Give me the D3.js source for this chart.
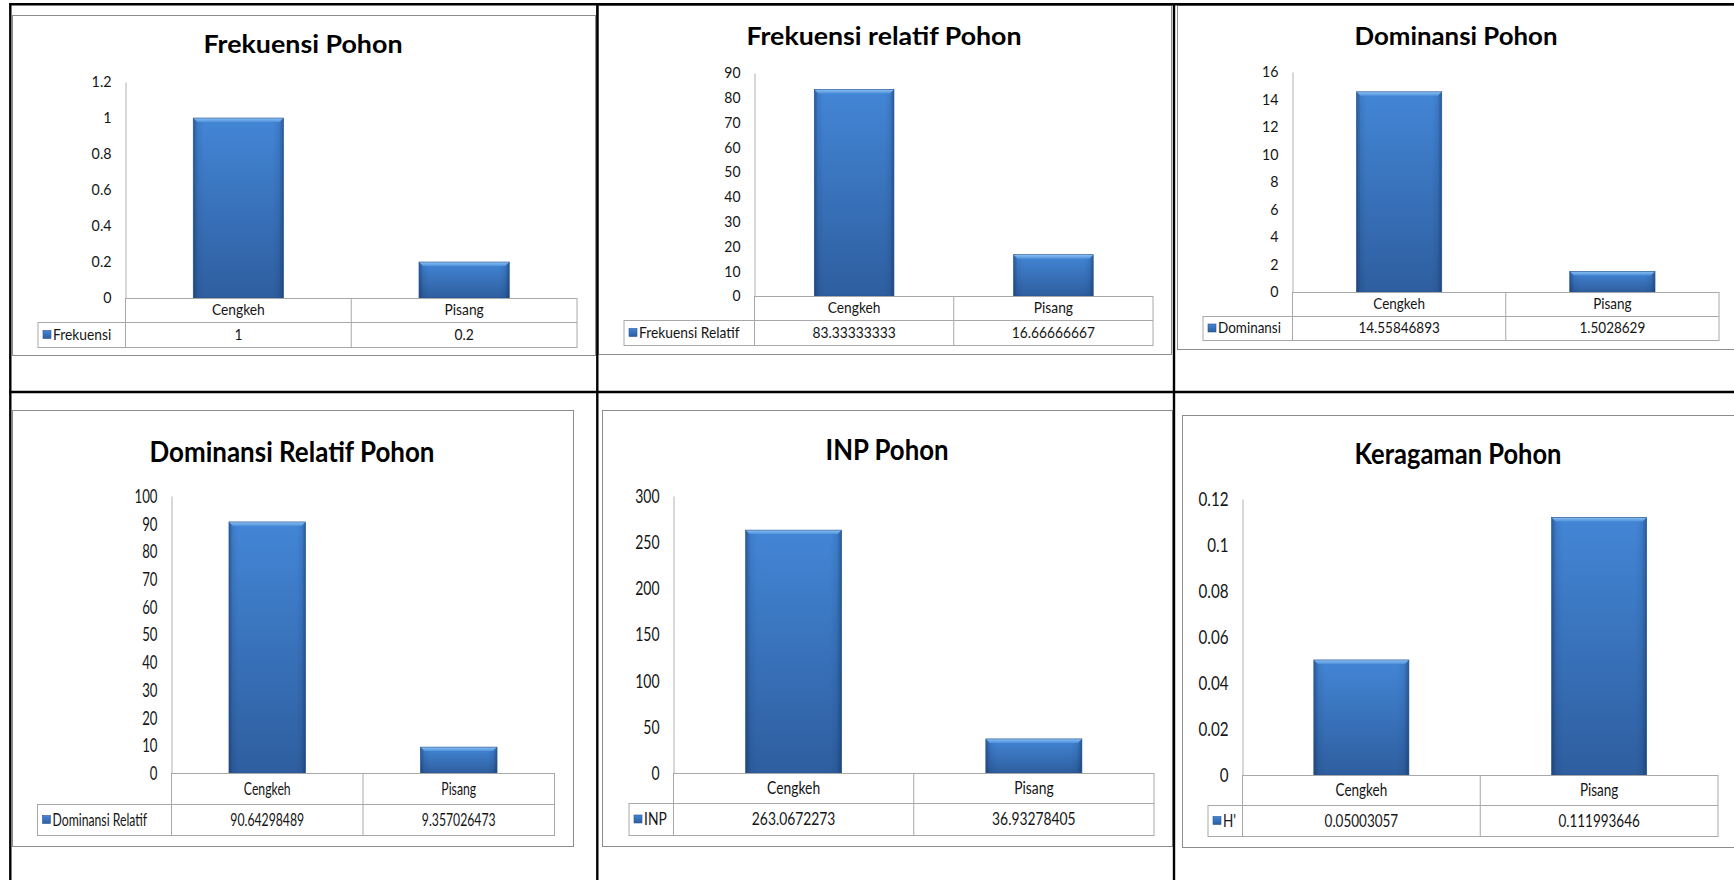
<!DOCTYPE html>
<html>
<head>
<meta charset="utf-8">
<script src="https://cdn.jsdelivr.net/npm/d3@7"></script>
<style>
  body { margin: 0; background: #fff; }
  svg { display: block; font-family: Lato, "Open Sans", sans-serif; }
</style>
</head>
<body>
<div id="chart"></div>
<script>
// kategori pohon
const categories = ["Cengkeh", "Pisang"];

// nilai tiap grafik
const frekuensi = [1, 0.2];
const frekuensiRelatif = [83.33333333, 16.66666667];
const dominansi = [14.55846893, 1.5028629];
const dominansiRelatif = [90.64298489, 9.357026473];
const inp = [263.0672273, 36.93278405];
const keragaman = [0.05003057, 0.111993646];

// angka di tabel data (ditulis seperti di Excel)
const frekuensiText = ["1", "0.2"];
const frekuensiRelatifText = ["83.33333333", "16.66666667"];
const dominansiText = ["14.55846893", "1.5028629"];
const dominansiRelatifText = ["90.64298489", "9.357026473"];
const inpText = ["263.0672273", "36.93278405"];
const keragamanText = ["0.05003057", "0.111993646"];

// tick sumbu y
const ticksFrekuensi = [0, 0.2, 0.4, 0.6, 0.8, 1, 1.2];
const ticksFrekuensiRelatif = [0, 10, 20, 30, 40, 50, 60, 70, 80, 90];
const ticksDominansi = [0, 2, 4, 6, 8, 10, 12, 14, 16];
const ticksDominansiRelatif = [0, 10, 20, 30, 40, 50, 60, 70, 80, 90, 100];
const ticksInp = [0, 50, 100, 150, 200, 250, 300];
const ticksKeragaman = [0, 0.02, 0.04, 0.06, 0.08, 0.1, 0.12];

const titles = ["Frekuensi Pohon", "Frekuensi relatif Pohon", "Dominansi Pohon",
                "Dominansi Relatif Pohon", "INP Pohon", "Keragaman Pohon"];
const seriesNames = ["Frekuensi", "Frekuensi Relatif", "Dominansi",
                     "Dominansi Relatif", "INP", "H'"];

// posisi tiap grafik di halaman (hasil ukur dari gambar)
const charts = [
  { values: frekuensi, labels: frekuensiText, ticks: ticksFrekuensi,
    frame: [12, 15, 595, 355], axisX: 125.5, top: 82, zero: 298, right: 577,
    legendLeft: 38, catBottom: 322, legBottom: 347,
    titleX: 303, titleY: 53, titleW: 199, titleSize: 25,
    tickFont: 15, tableFont: 15, sqTick: 0.95, sqTable: 0.92 },
  { values: frekuensiRelatif, labels: frekuensiRelatifText, ticks: ticksFrekuensiRelatif,
    frame: [598, 5, 1171, 354], axisX: 754.5, top: 73, zero: 296, right: 1153,
    legendLeft: 624, catBottom: 320, legBottom: 345,
    titleX: 884, titleY: 45, titleW: 275, titleSize: 25,
    tickFont: 15, tableFont: 15, sqTick: 0.93, sqTable: 0.92 },
  { values: dominansi, labels: dominansiText, ticks: ticksDominansi,
    frame: [1177, 5, 1745, 349], axisX: 1292.5, top: 72, zero: 292, right: 1719,
    legendLeft: 1203, catBottom: 316, legBottom: 340,
    titleX: 1456, titleY: 45, titleW: 203, titleSize: 25,
    tickFont: 15, tableFont: 15, sqTick: 0.95, sqTable: 0.9 },
  { values: dominansiRelatif, labels: dominansiRelatifText, ticks: ticksDominansiRelatif,
    frame: [12, 410, 573, 846], axisX: 171.5, top: 496, zero: 773, right: 554.5,
    legendLeft: 37.5, catBottom: 804, legBottom: 835,
    titleX: 292, titleY: 462, titleW: 285, titleSize: 29,
    tickFont: 20, tableFont: 18, sqTick: 0.66, sqTable: 0.68 },
  { values: inp, labels: inpText, ticks: ticksInp,
    frame: [602, 410, 1172, 846], axisX: 673.5, top: 496, zero: 773, right: 1154,
    legendLeft: 629, catBottom: 803, legBottom: 835,
    titleX: 887, titleY: 460, titleW: 123, titleSize: 29,
    tickFont: 20, tableFont: 18, sqTick: 0.7, sqTable: 0.77 },
  { values: keragaman, labels: keragamanText, ticks: ticksKeragaman,
    frame: [1182, 415, 1745, 847], axisX: 1242.5, top: 499, zero: 775, right: 1718,
    legendLeft: 1208, catBottom: 805, legBottom: 836,
    titleX: 1458, titleY: 464, titleW: 207, titleSize: 29,
    tickFont: 20, tableFont: 18, sqTick: 0.76, sqTable: 0.75 }
];
charts.forEach((c, i) => { c.title = titles[i]; c.series = seriesNames[i]; });

const W = 1734, H = 880;
const ink = "#151515";
const svg = d3.select("#chart").append("svg").attr("width", W).attr("height", H);

// gradien batang gaya Excel 2007
const defs = svg.append("defs");
const gV = defs.append("linearGradient").attr("id", "barV").attr("x1", 0).attr("y1", 0).attr("x2", 0).attr("y2", 1);
gV.append("stop").attr("offset", "0%").attr("stop-color", "#4386d6");
gV.append("stop").attr("offset", "100%").attr("stop-color", "#2e5e9f");
const gH = defs.append("linearGradient").attr("id", "barH");
gH.append("stop").attr("offset", "0%").attr("stop-color", "#0a2550").attr("stop-opacity", 0.45);
gH.append("stop").attr("offset", "5%").attr("stop-color", "#0a2550").attr("stop-opacity", 0.1);
gH.append("stop").attr("offset", "12%").attr("stop-color", "#0a2550").attr("stop-opacity", 0);
gH.append("stop").attr("offset", "88%").attr("stop-color", "#0a2550").attr("stop-opacity", 0);
gH.append("stop").attr("offset", "95%").attr("stop-color", "#0a2550").attr("stop-opacity", 0.1);
gH.append("stop").attr("offset", "100%").attr("stop-color", "#0a2550").attr("stop-opacity", 0.45);
const gT = defs.append("linearGradient").attr("id", "barTop").attr("x1", 0).attr("y1", 0).attr("x2", 0).attr("y2", 1);
gT.append("stop").attr("offset", "0%").attr("stop-color", "#8cc0f2");
gT.append("stop").attr("offset", "100%").attr("stop-color", "#4f92dc");

// teks dipersempit (gambar asli agak gepeng)
function squeeze(sel, k) {
  sel.each(function() {
    const t = d3.select(this);
    const x = +t.attr("x") || 0, y = +t.attr("y") || 0;
    t.attr("x", 0).attr("y", 0).attr("transform", `translate(${x},${y}) scale(${k},1)`);
  });
}

function drawChart(c) {
  const g = svg.append("g");
  const [fx0, fy0, fx1, fy1] = c.frame;
  g.append("rect")
    .attr("x", fx0 + 0.5).attr("y", fy0 + 0.5)
    .attr("width", fx1 - fx0).attr("height", fy1 - fy0)
    .attr("fill", "#fff").attr("stroke", "#8c8c8c");

  g.append("text")
    .attr("x", c.titleX).attr("y", c.titleY)
    .attr("text-anchor", "middle")
    .attr("font-weight", "bold").attr("font-size", c.titleSize)
    .attr("textLength", c.titleW).attr("lengthAdjust", "spacingAndGlyphs")
    .attr("fill", "#000")
    .text(c.title);

  const y = d3.scaleLinear().domain([0, d3.max(c.ticks)]).range([c.zero, c.top]);
  const col = d3.scaleBand().domain(categories).range([c.axisX, c.right]);
  const x = d3.scaleBand().domain(categories).range([c.axisX, c.right])
    .paddingInner(0.6).paddingOuter(0.3);

  const rows = categories.map((k, i) => ({ k, v: c.values[i], label: c.labels[i] }));

  // sumbu y
  const ax = g.append("g")
    .attr("transform", `translate(${c.axisX},0)`)
    .call(d3.axisLeft(y).tickValues(c.ticks).tickSize(0).tickPadding(14)
      .tickFormat(d3.format("~g")));
  ax.attr("font-family", null).attr("font-size", c.tickFont);
  ax.select(".domain").attr("stroke", "#b0b0b0");
  ax.selectAll("text").attr("fill", ink);
  squeeze(ax.selectAll("text"), c.sqTick);

  // batang
  const bars = g.selectAll("g.bar").data(rows).join("g").attr("class", "bar");
  bars.append("rect")
    .attr("x", d => x(d.k)).attr("y", d => y(d.v))
    .attr("width", x.bandwidth()).attr("height", d => y(0) - y(d.v))
    .attr("fill", "url(#barV)");
  bars.append("rect")
    .attr("x", d => x(d.k)).attr("y", d => y(d.v))
    .attr("width", x.bandwidth()).attr("height", d => y(0) - y(d.v))
    .attr("fill", "url(#barH)");
  bars.append("path")
    .attr("d", d => {
      const x0 = x(d.k), x1 = x0 + x.bandwidth(), t = y(d.v), b = 4;
      return `M${x0},${t}H${x1}L${x1 - b},${t + b}H${x0 + b}Z`;
    })
    .attr("fill", "url(#barTop)");
  bars.append("rect")
    .attr("x", d => x(d.k)).attr("y", d => y(d.v))
    .attr("width", x.bandwidth()).attr("height", d => y(0) - y(d.v))
    .attr("fill", "none").attr("stroke", "#2a5591").attr("stroke-width", 0.6);

  // tabel data di bawah
  const line = "#a8a8a8";
  const hl = (x0, x1, yy) => g.append("line").attr("x1", x0).attr("x2", x1)
    .attr("y1", yy + 0.5).attr("y2", yy + 0.5).attr("stroke", line);
  const vl = (xx, y0, y1) => g.append("line").attr("x1", xx).attr("x2", xx)
    .attr("y1", y0).attr("y2", y1).attr("stroke", line);
  hl(c.axisX, c.right, c.zero);
  hl(c.legendLeft, c.right, c.catBottom);
  hl(c.legendLeft, c.right, c.legBottom);
  vl(c.legendLeft, c.catBottom, c.legBottom + 1);
  categories.forEach(k => vl(col(k), c.zero, c.legBottom + 1));
  vl(c.right, c.zero, c.legBottom + 1);

  const catY = (c.zero + c.catBottom) / 2, legY = (c.catBottom + c.legBottom) / 2;
  const cat = g.selectAll("text.cat").data(rows).join("text").attr("class", "cat")
    .attr("x", d => col(d.k) + col.bandwidth() / 2).attr("y", catY)
    .attr("dy", "0.35em").attr("text-anchor", "middle")
    .attr("font-size", c.tableFont).attr("fill", ink)
    .text(d => d.k);
  squeeze(cat, c.sqTable);
  const val = g.selectAll("text.val").data(rows).join("text").attr("class", "val")
    .attr("x", d => col(d.k) + col.bandwidth() / 2).attr("y", legY)
    .attr("dy", "0.35em").attr("text-anchor", "middle")
    .attr("font-size", c.tableFont).attr("fill", ink)
    .text(d => d.label);
  squeeze(val, c.sqTable);

  // kunci legenda
  g.append("rect")
    .attr("x", c.legendLeft + 5).attr("y", legY - 4)
    .attr("width", 8).attr("height", 8)
    .attr("fill", "url(#barV)").attr("stroke", "#2a5591").attr("stroke-width", 0.6);
  const lg = g.append("text")
    .attr("x", c.legendLeft + 15).attr("y", legY)
    .attr("dy", "0.35em").attr("font-size", c.tableFont).attr("fill", ink)
    .text(c.series);
  squeeze(lg, c.sqTable);
}

charts.forEach(drawChart);

// garis tabel Word (hitam)
const border = svg.append("g").attr("stroke", "#000").attr("stroke-width", 2.4);
[4.3, 392].forEach(yy => border.append("line").attr("x1", 9).attr("x2", W).attr("y1", yy).attr("y2", yy));
[10.3, 597.3, 1174].forEach(xx => border.append("line").attr("x1", xx).attr("x2", xx).attr("y1", 3).attr("y2", H));
</script>
</body>
</html>
